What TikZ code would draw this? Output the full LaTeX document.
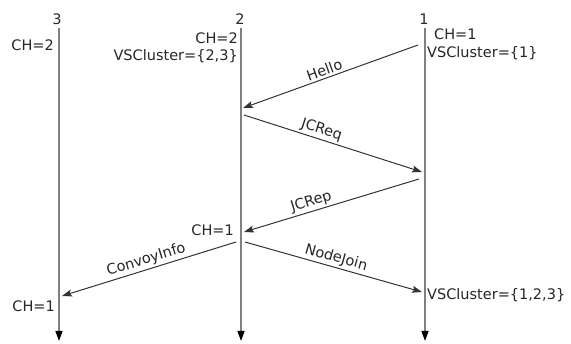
\documentclass[tikz,border=0pt]{standalone}
\usepackage{fontspec}
\setmainfont{DejaVu Sans}
\usetikzlibrary{arrows.meta}
\begin{document}
\begin{tikzpicture}[x=1pt,y=-1pt,
  txt/.style={font=\fontsize{14.5}{16}\selectfont, inner sep=0pt, text=black!85},
  lifeline/.style={draw=black!50, line width=1.3pt, -{Stealth[length=10pt,width=7pt,inset=0pt,fill=black,color=black]}},
  msg/.style={draw=black!80, line width=1pt, -{Stealth[length=10pt,width=7pt,inset=2pt]}},
  lbl/.style={txt, sloped, above, inner sep=2pt}]
\useasboundingbox (0,0) rectangle (571,344);
% lifelines
\coordinate (t3) at (59,28);  \coordinate (b3) at (59,341);
\coordinate (t2) at (241,28); \coordinate (b2) at (241,341);
\coordinate (t1) at (425,28); \coordinate (b1) at (425,341);
\draw[lifeline] (t3) -- (b3);
\draw[lifeline] (t2) -- (b2);
\draw[lifeline] (t1) -- (b1);
% headers
\node[txt] (n3) at (57,19) {3};
\node[txt] (n2) at (240,19) {2};
\node[txt] (n1) at (424,19) {1};
% state labels
\node[txt, anchor=east] (s3a) at (54,45) {CH=2};
\node[txt, anchor=east] (s2a) at (238,38) {CH=2};
\node[txt, anchor=east] (s2b) at (238,56) {VSCluster=\{2,3\}};
\node[txt, anchor=west] (s1a) at (434,34) {CH=1};
\node[txt, anchor=west] (s1b) at (427,53) {VSCluster=\{1\}};
\node[txt, anchor=east] (s2c) at (234,230) {CH=1};
\node[txt, anchor=east] (s3b) at (55,306) {CH=1};
\node[txt, anchor=west] (s1c) at (427,295) {VSCluster=\{1,2,3\}};
% message endpoints
\coordinate (h1) at (418,45);  \coordinate (h2) at (243,108);
\coordinate (q1) at (244,115); \coordinate (q2) at (422,172);
\coordinate (r1) at (419,179); \coordinate (r2) at (244,232);
\coordinate (c1) at (236,242); \coordinate (c2) at (62,296);
\coordinate (j1) at (245,242); \coordinate (j2) at (422,292);
% messages
\draw[msg] (h1) -- node[lbl, pos=0.52] {Hello} (h2);
\draw[msg] (q1) -- node[lbl, pos=0.42] {JCReq} (q2);
\draw[msg] (r1) -- node[lbl, pos=0.6] {JCRep} (r2);
\draw[msg] (c1) -- node[lbl, pos=0.5] {ConvoyInfo} (c2);
\draw[msg] (j1) -- node[lbl, pos=0.5] {NodeJoin} (j2);
\end{tikzpicture}
\end{document}
